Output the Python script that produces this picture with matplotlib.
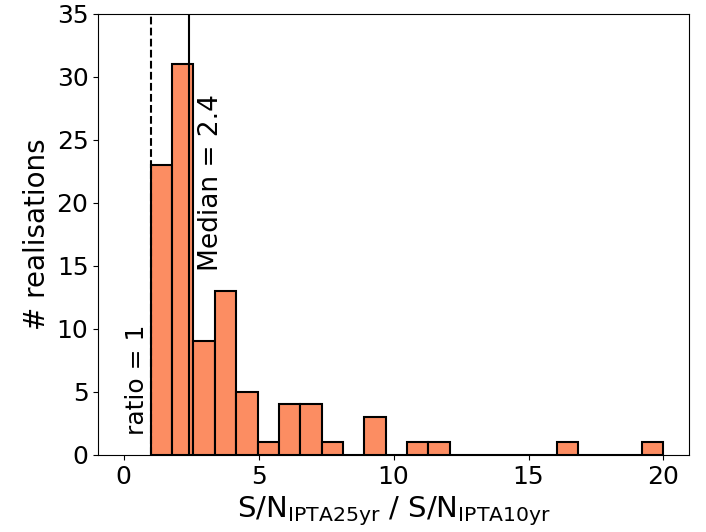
import matplotlib
matplotlib.use("Agg")
import matplotlib.pyplot as plt
import numpy as np

bin_lo, bin_hi, n_bins = 1.0, 20.0, 24
counts = [23, 31, 9, 13, 5, 1, 4, 4, 1, 0, 3, 0, 1, 1, 0, 0, 0, 0, 0, 1, 0, 0, 0, 1]
ratio_line = 1.0
median = 2.4

edges = np.linspace(bin_lo, bin_hi, n_bins + 1)
centers = 0.5 * (edges[:-1] + edges[1:])

fig, ax = plt.subplots(figsize=(7.06, 5.32), dpi=100)
fig.subplots_adjust(left=0.139, right=0.976, top=0.974, bottom=0.145)
ax.hist(centers, bins=edges, weights=counts, color="#FC8D62", edgecolor="black", linewidth=1.5)
ax.axvline(ratio_line, color="black", linestyle="--", linewidth=1.5)
ax.axvline(median, color="black", linestyle="-", linewidth=1.5)
ax.set_ylim(0, 35)
ax.set_xlim(-0.95, 20.95)
ax.text(0.5, 1.6, "ratio = 1", rotation=90, fontsize=18, ha="center", va="bottom")
ax.text(3.25, 14.6, f"Median = {median}", rotation=90, fontsize=19, ha="center", va="bottom")
ax.set_xlabel(r"S/N$_{\rm IPTA25yr}$ / S/N$_{\rm IPTA10yr}$", fontsize=21)
ax.set_ylabel("# realisations", fontsize=20)
ax.tick_params(labelsize=18)
fig.savefig("out.png", dpi=100)
